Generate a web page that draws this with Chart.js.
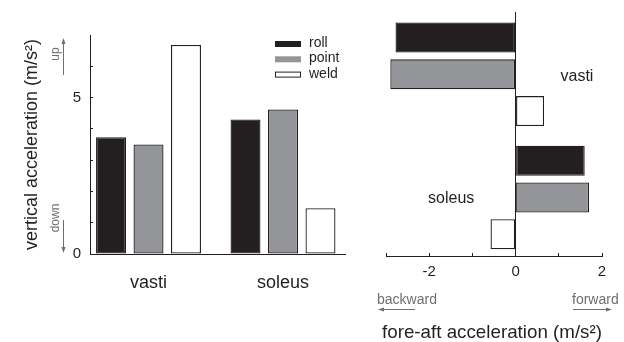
<!DOCTYPE html>
<html>
<head>
<meta charset="utf-8">
<script src="https://cdn.jsdelivr.net/npm/chart.js@4.4.0/dist/chart.umd.min.js"></script>
<style>
  body { margin: 0; background: #fff; width: 624px; height: 342px; overflow: hidden; position: relative; }
  canvas { position: absolute; top: 0; }
  #ChartVertical { left: 0; }
  #ChartForeAft { left: 376px; }
</style>
</head>
<body>
<canvas id="ChartVertical" width="360" height="342"></canvas>
<canvas id="ChartForeAft" width="248" height="342"></canvas>
<script>
const categorias = ['vasti', 'soleus'];
const series = ['roll', 'point', 'weld'];

// aceleracao vertical (m/s2)
const verticalRoll = [3.73, 4.3];
const verticalPoint = [3.5, 4.62];
const verticalWeld = [6.68, 1.46];

// aceleracao frente-tras (m/s2)
const foreAftRoll = [-2.78, 1.6];
const foreAftPoint = [-2.9, 1.7];
const foreAftWeld = [0.66, -0.58];

const verticalTicks = [0, 5];
const foreAftTicks = [-2, 0, 2];

const cores = ['#231f20', '#939598', '#ffffff'];
const tinta = '#231f20';
const cinza = '#6d6e71';
const fonte = "'Liberation Sans', Arial, sans-serif";

Chart.defaults.font.family = fonte;
Chart.defaults.color = tinta;

function montaPontos(valores, horizontal) {
    return valores.map((v, i) => horizontal ? { x: v, y: i + 1 } : { x: i + 1, y: v });
}

function montaDatasets(listas, horizontal, catPct, barPct) {
    return listas.map((valores, i) => ({
        label: series[i],
        data: montaPontos(valores, horizontal),
        backgroundColor: cores[i],
        borderColor: tinta,
        borderWidth: 1.3,
        borderSkipped: false,
        categoryPercentage: catPct,
        barPercentage: barPct
    }));
}

function desenhaSeta(ctx, x1, y1, x2, y2) {
    const ang = Math.atan2(y2 - y1, x2 - x1);
    ctx.beginPath();
    ctx.moveTo(x1, y1);
    ctx.lineTo(x2 - 4 * Math.cos(ang), y2 - 4 * Math.sin(ang));
    ctx.stroke();
    ctx.beginPath();
    ctx.moveTo(x2, y2);
    ctx.lineTo(x2 - 6 * Math.cos(ang) + 2 * Math.sin(ang), y2 - 6 * Math.sin(ang) - 2 * Math.cos(ang));
    ctx.lineTo(x2 - 6 * Math.cos(ang) - 2 * Math.sin(ang), y2 - 6 * Math.sin(ang) + 2 * Math.cos(ang));
    ctx.closePath();
    ctx.fill();
}

const legenda = {
    id: 'legenda',
    afterDraw(chart) {
        const ctx = chart.ctx;
        ctx.save();
        ctx.font = '14px ' + fonte;
        ctx.textBaseline = 'alphabetic';
        chart.data.datasets.forEach((ds, i) => {
            const y = 41 + i * 15.3;
            ctx.fillStyle = ds.backgroundColor;
            ctx.fillRect(275, y, 26, 6);
            if (ds.backgroundColor === '#ffffff') {
                ctx.strokeStyle = tinta;
                ctx.lineWidth = 1;
                ctx.strokeRect(275.5, y + 0.5, 25, 5);
            }
            ctx.fillStyle = tinta;
            ctx.fillText(ds.label, 309, y + 6);
        });
        ctx.restore();
    }
};

const setasVertical = {
    id: 'setasVertical',
    afterDraw(chart) {
        const ctx = chart.ctx;
        ctx.save();
        ctx.fillStyle = cinza;
        ctx.strokeStyle = cinza;
        ctx.lineWidth = 1;
        ctx.font = '12px ' + fonte;
        ctx.textAlign = 'center';
        ctx.textBaseline = 'middle';
        [['up', 54], ['down', 218]].forEach(([txt, y]) => {
            ctx.save();
            ctx.translate(56, y);
            ctx.rotate(-Math.PI / 2);
            ctx.fillText(txt, 0, 0);
            ctx.restore();
        });
        desenhaSeta(ctx, 63.5, 75, 63.5, 38);
        desenhaSeta(ctx, 63.5, 220, 63.5, 253);
        ctx.restore();
    }
};

const rotulosForeAft = {
    id: 'rotulosForeAft',
    afterDraw(chart) {
        const ctx = chart.ctx;
        const x = chart.scales.x;
        const y = chart.scales.y;
        ctx.save();
        ctx.fillStyle = tinta;
        ctx.font = '16px ' + fonte;
        ctx.textAlign = 'center';
        ctx.textBaseline = 'middle';
        ctx.fillText(categorias[0], x.getPixelForValue(1.42), y.getPixelForValue(1) + 2);
        ctx.fillText(categorias[1], x.getPixelForValue(-1.49), y.getPixelForValue(2) + 1);

        ctx.fillStyle = cinza;
        ctx.strokeStyle = cinza;
        ctx.lineWidth = 1;
        ctx.font = '14px ' + fonte;
        ctx.textAlign = 'left';
        ctx.textBaseline = 'alphabetic';
        ctx.fillText('backward', 1, 303.5);
        ctx.fillText('forward', 196, 303.5);
        desenhaSeta(ctx, 39, 309.5, 2, 309.5);
        desenhaSeta(ctx, 197, 309.5, 236, 309.5);
        ctx.restore();
    }
};

const chartVertical = new Chart(document.getElementById('ChartVertical'), {
    type: 'bar',
    data: {
        datasets: montaDatasets([verticalRoll, verticalPoint, verticalWeld], false, 0.836, 0.8)
    },
    options: {
        responsive: false,
        animation: false,
        layout: { padding: { left: 0, top: 35, right: 15, bottom: 0 } },
        plugins: { legend: { display: false }, tooltip: { enabled: false } },
        scales: {
            x: {
                type: 'linear',
                offset: false,
                min: 0.565,
                max: 2.461,
                afterBuildTicks: (s) => { s.ticks = categorias.map((c, i) => ({ value: i + 1 })); },
                afterFit: (s) => { s.height = 88; },
                ticks: {
                    callback: (v) => categorias[v - 1],
                    padding: 10,
                    font: { size: 18 },
                    maxRotation: 0,
                    autoSkip: false
                },
                grid: { display: false },
                border: { color: tinta, width: 1 }
            },
            y: {
                min: 0,
                max: 7,
                afterFit: (s) => { s.width = 90; },
                ticks: {
                    stepSize: 1,
                    autoSkip: false,
                    callback: (v) => verticalTicks.includes(v) ? String(v) : '',
                    padding: 12,
                    font: { size: 15 }
                },
                grid: {
                    drawOnChartArea: false,
                    tickLength: -3,
                    color: (c) => (c.tick && c.tick.value > 0 && c.tick.value < 7) ? tinta : 'rgba(0,0,0,0)'
                },
                border: { color: tinta, width: 1 },
                title: {
                    display: true,
                    text: 'vertical acceleration (m/s²)',
                    font: { size: 18 },
                    padding: { top: 21, bottom: 0 }
                }
            }
        }
    },
    plugins: [legenda, setasVertical]
});

const chartForeAft = new Chart(document.getElementById('ChartForeAft'), {
    type: 'bar',
    data: {
        datasets: montaDatasets([foreAftRoll, foreAftPoint, foreAftWeld], true, 0.896, 0.815)
    },
    options: {
        indexAxis: 'y',
        responsive: false,
        animation: false,
        layout: { padding: { left: 6, top: 12, right: 22, bottom: 0 } },
        plugins: {
            legend: { display: false },
            tooltip: { enabled: false },
            title: {
                display: true,
                position: 'bottom',
                text: 'fore-aft acceleration (m/s²)',
                color: tinta,
                font: { size: 19, weight: 'normal', lineHeight: 1 },
                padding: 0
            }
        },
        scales: {
            x: {
                type: 'linear',
                min: -3,
                max: 2,
                afterFit: (s) => { s.height = 67; },
                ticks: {
                    stepSize: 1,
                    autoSkip: false,
                    maxRotation: 0,
                    callback: (v) => foreAftTicks.includes(v) ? String(v) : '',
                    padding: 10,
                    font: { size: 15 }
                },
                grid: { drawOnChartArea: false, tickLength: -3, color: tinta },
                border: { color: tinta, width: 1 }
            },
            y: {
                type: 'linear',
                offset: false,
                reverse: true,
                min: 0.494,
                max: 2.475,
                position: { x: 0 },
                afterBuildTicks: (s) => { s.ticks = categorias.map((c, i) => ({ value: i + 1 })); },
                ticks: { display: false },
                grid: { display: false },
                border: { color: tinta, width: 1 }
            }
        }
    },
    plugins: [rotulosForeAft]
});
</script>
</body>
</html>
